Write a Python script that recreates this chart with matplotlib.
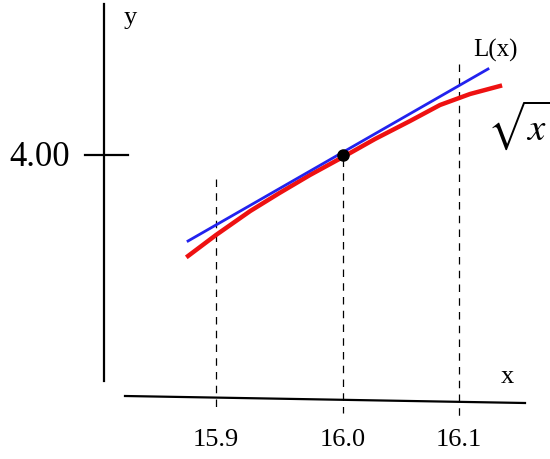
import matplotlib
matplotlib.use("Agg")
import matplotlib.pyplot as plt
import numpy as np

# data
red_x = [15.878, 15.9, 15.927, 15.950, 15.974, 16.0, 16.0276, 16.0578, 16.0836, 16.1095, 16.1353]
red_y = [3.9798, 3.9840, 3.9888, 3.9924, 3.9960, 3.9996, 4.0032, 4.0068, 4.0100, 4.0122, 4.0138]
blue_x = [15.878, 16.125]
blue_y = [3.9828, 4.0172]
pt_x, pt_y = 16.0, 4.0
xticks = [15.9, 16.0, 16.1]
xtick_labels = ["15.9", "16.0", "16.1"]

W, H = 550, 460
# hand-drawn, slightly uneven x spacing: piecewise-linear scale
XD = [15.0, 15.9, 16.0, 16.1, 17.0]
XP = [216 - 0.9 * 1270, 216, 343, 459, 459 + 0.9 * 1160]
fwd = lambda x: np.interp(x, XD, XP)
inv = lambda p: np.interp(p, XP, XD)
def X(px): return float(inv(px))
def Y(py): return 4.0 + (156 - py) * 0.0002

fig = plt.figure(figsize=(W/100, H/100), dpi=100)
ax = fig.add_axes([0, 0, 1, 1])
ax.set_xscale("function", functions=(fwd, inv))
ax.set_xlim(X(0), X(W)); ax.set_ylim(Y(H), Y(0)); ax.axis("off")

k = dict(color="black", lw=1.6)
ax.plot([X(104), X(104)], [Y(5), Y(382)], **k)
ax.plot([X(125), X(525)], [Y(397), Y(404)], **k)
ax.plot([X(85), X(128)], [Y(156), Y(156)], **k)
tops = [180, 160, 65]; bots = [412, 414, 420]
for xv, t, b in zip(xticks, tops, bots):
    ax.plot([xv, xv], [Y(t), Y(b)], color="black", lw=0.9, ls=(0, (6, 5)))
ax.plot(red_x, red_y, color="#ee1111", lw=3.2)
ax.plot(blue_x, blue_y, color="#2222ee", lw=2)
ax.plot([pt_x], [pt_y], "o", color="black", ms=8)

f = dict(family="Liberation Serif", color="black")
for xv, lab in zip(xticks, xtick_labels):
    ax.text(xv, Y(440), lab, ha="center", va="center", fontsize=19, **f)
ax.text(X(40), Y(158), "4.00", ha="center", va="center", fontsize=25, **f)
ax.text(X(130), Y(18), "y", ha="center", va="center", fontsize=19, **f)
ax.text(X(507), Y(377), "x", ha="center", va="center", fontsize=19, **f)
ax.text(X(495), Y(50), "L(x)", ha="center", va="center", fontsize=18, **f)
ax.text(X(520), Y(125), r"$\sqrt{x}$", ha="center", va="center", fontsize=28,
        color="black", math_fontfamily="stix")
fig.savefig("out.png", dpi=100)
